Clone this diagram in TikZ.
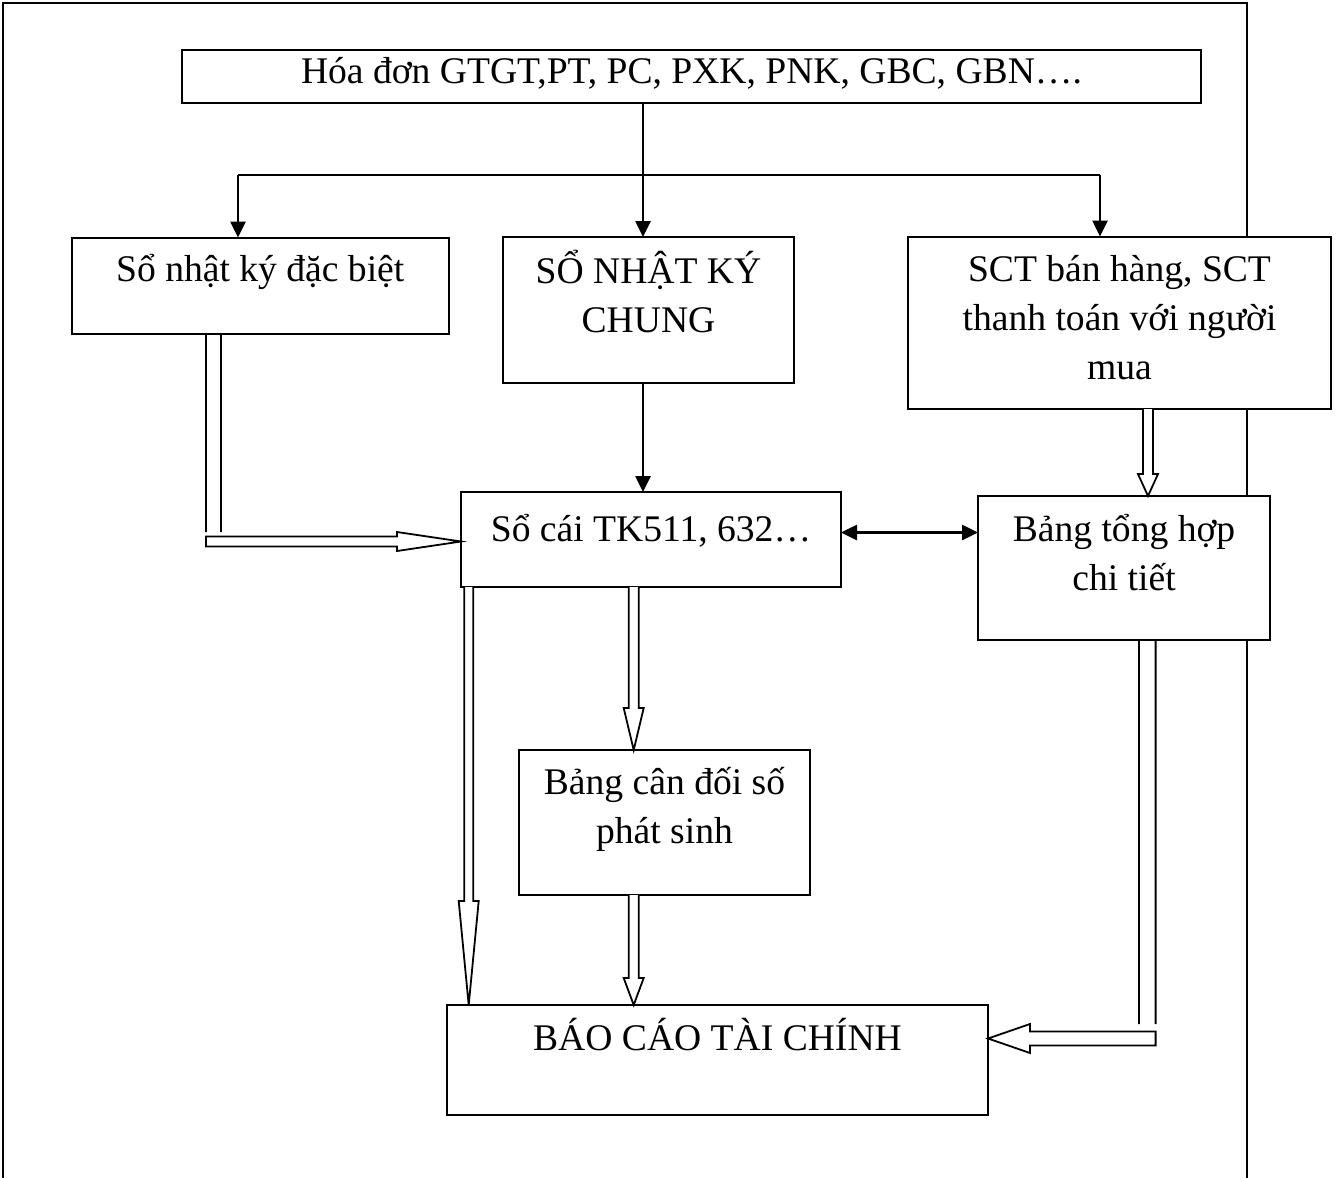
\documentclass[tikz,border=0pt]{standalone}
\usepackage{fontspec}
\setmainfont{Liberation Serif}
\usetikzlibrary{arrows.meta,calc}

% first-line strut so that every label is placed by its first baseline
\newcommand{\topstrut}{\rule{0pt}{40pt}}

% hollow block arrow pointing down: #1 shaft start, #2 tip,
% #3 half shaft width, #4 half head width, #5 head length
\newcommand{\hollowdown}[5]{%
  \draw[hollow] let \p1=(#1), \p2=(#2) in
    (\x2-#3,\y1) -- (\x2-#3,\y2+#5) -- (\x2-#4,\y2+#5) -- (\x2,\y2)
    -- (\x2+#4,\y2+#5) -- (\x2+#3,\y2+#5) -- (\x2+#3,\y1);}

\begin{document}
\begin{tikzpicture}[x=1pt,y=-1pt,
  box/.style={draw, line width=2pt, fill=white, inner sep=0pt, outer sep=0pt},
  txt/.style={font=\fontsize{37.6}{49}\selectfont, align=center, inner sep=0pt, anchor=north},
  flow/.style={line width=2.6pt, -{Triangle[length=16pt,width=15pt]}},
  both/.style={line width=2.6pt, {Triangle[length=16pt,width=15pt]}-{Triangle[length=16pt,width=15pt]}},
  hollow/.style={line width=1.8pt, line join=miter, fill=white}]

\useasboundingbox (0,0) rectangle (1339,1178);

% page frame, open at the bottom
\draw[line width=2pt] (3,1178) -- (3,3) -- (1247,3) -- (1247,1178);

% boxes
\node[box, minimum width=1019pt, minimum height=53pt]  (top)     at (691.5,76.5)  {};
\node[box, minimum width=377.5pt, minimum height=96pt] (dacbiet) at (260.25,285.5) {};
\node[box, minimum width=291pt, minimum height=146pt]  (chung)   at (648.5,310)   {};
\node[box, minimum width=423pt, minimum height=172.5pt](sct)     at (1119.5,322.75) {};
\node[box, minimum width=380pt, minimum height=95pt]   (socai)   at (651,539.5)   {};
\node[box, minimum width=292pt, minimum height=144pt]  (tonghop) at (1124,568)    {};
\node[box, minimum width=291pt, minimum height=145pt]  (candoi)  at (664.5,822.5) {};
\node[box, minimum width=541pt, minimum height=110pt]  (bctc)    at (717.5,1060)  {};

% labels
\node[txt] (topT)     at ([yshift=7pt]top.north)      {\topstrut Hóa đơn GTGT,PT, PC, PXK, PNK, GBC, GBN….};
\node[txt] (dacbietT) at ([yshift=-4.2pt]dacbiet.north) {\topstrut Sổ nhật ký đặc biệt};
\node[txt] (chungT)   at ([yshift=-6pt]chung.north)   {\topstrut SỔ NHẬT KÝ\\CHUNG};
\node[txt] (sctT)     at ([yshift=-5.2pt]sct.north)   {\topstrut SCT bán hàng, SCT\\thanh toán với người\\mua};
\node[txt] (socaiT)   at ([yshift=-9pt]socai.north)   {\topstrut Sổ cái TK511, 632…};
\node[txt] (tonghopT) at ([yshift=-5pt]tonghop.north) {\topstrut Bảng tổng hợp\\chi tiết};
\node[txt] (candoiT)  at ([yshift=-4pt]candoi.north)  {\topstrut Bảng cân đối số\\phát sinh};
\node[txt] (bctcT)    at ([yshift=-5pt]bctc.north)    {\topstrut BÁO CÁO TÀI CHÍNH};

% distribution of the source documents
\coordinate (split) at (643,175);
\coordinate (jl) at (238,175);
\coordinate (jr) at (1100,175);
\draw[line width=2.6pt] (split |- top.south) -- (split);
\draw[line width=2.6pt] (jl) -- (jr);
\draw[flow] (split) -- (split |- chung.north);
\draw[flow] (jl) -- (jl |- dacbiet.north);
\draw[flow] (jr) -- (jr |- sct.north);

% journal to ledger
\draw[flow] (split |- chung.south) -- (split |- socai.north);

% ledger <-> detail summary
\coordinate (lk) at (0,532.5);
\draw[both] (socai.east |- lk) -- (tonghop.west |- lk);

% hollow block arrows
\coordinate (mx) at (633.7,0);
\coordinate (lx) at (468.7,0);
\coordinate (rx) at (1148,0);
\hollowdown{socai.south -| mx}{candoi.north -| mx}{5pt}{10pt}{42pt}
\hollowdown{candoi.south -| mx}{bctc.north -| mx}{5pt}{10pt}{27pt}
\hollowdown{sct.south -| rx}{tonghop.north -| rx}{5pt}{10pt}{22pt}
\hollowdown{socai.south -| lx}{bctc.north -| lx}{4.5pt}{10pt}{104pt}

% special journal -> ledger (bent)
\coordinate (lbend) at (213.5,541.5);
\draw[hollow] let \p1=(lbend |- dacbiet.south), \p2=(socai.west |- lbend) in
  (\x1-7.5pt,\y1) -- (\x1-7.5pt,\y2+9.5pt)
  (\x1+7.5pt,\y1) -- (\x1+7.5pt,\y2+9.5pt)
  (\x1-7.5pt,\y2+5pt) -- (\x2-64pt,\y2+5pt) -- (\x2-64pt,\y2+9.5pt) -- (\x2,\y2)
  -- (\x2-64pt,\y2-9.5pt) -- (\x2-64pt,\y2-5pt) -- (\x1-7.5pt,\y2-5pt) -- cycle;

% detail summary -> financial statements (bent)
\coordinate (rbend) at (1147.3,1038.5);
\draw[hollow] let \p1=(rbend |- tonghop.south), \p2=(bctc.east |- rbend) in
  (\x1-8.3pt,\y1) -- (\x1-8.3pt,\y2+14.5pt)
  (\x1+8.3pt,\y1) -- (\x1+8.3pt,\y2+14.5pt)
  (\x1+8.3pt,\y2+7pt) -- (\x2+42pt,\y2+7pt) -- (\x2+42pt,\y2+14.5pt) -- (\x2,\y2)
  -- (\x2+42pt,\y2-14.5pt) -- (\x2+42pt,\y2-7pt) -- (\x1+8.3pt,\y2-7pt) -- cycle;

\end{tikzpicture}
\end{document}
